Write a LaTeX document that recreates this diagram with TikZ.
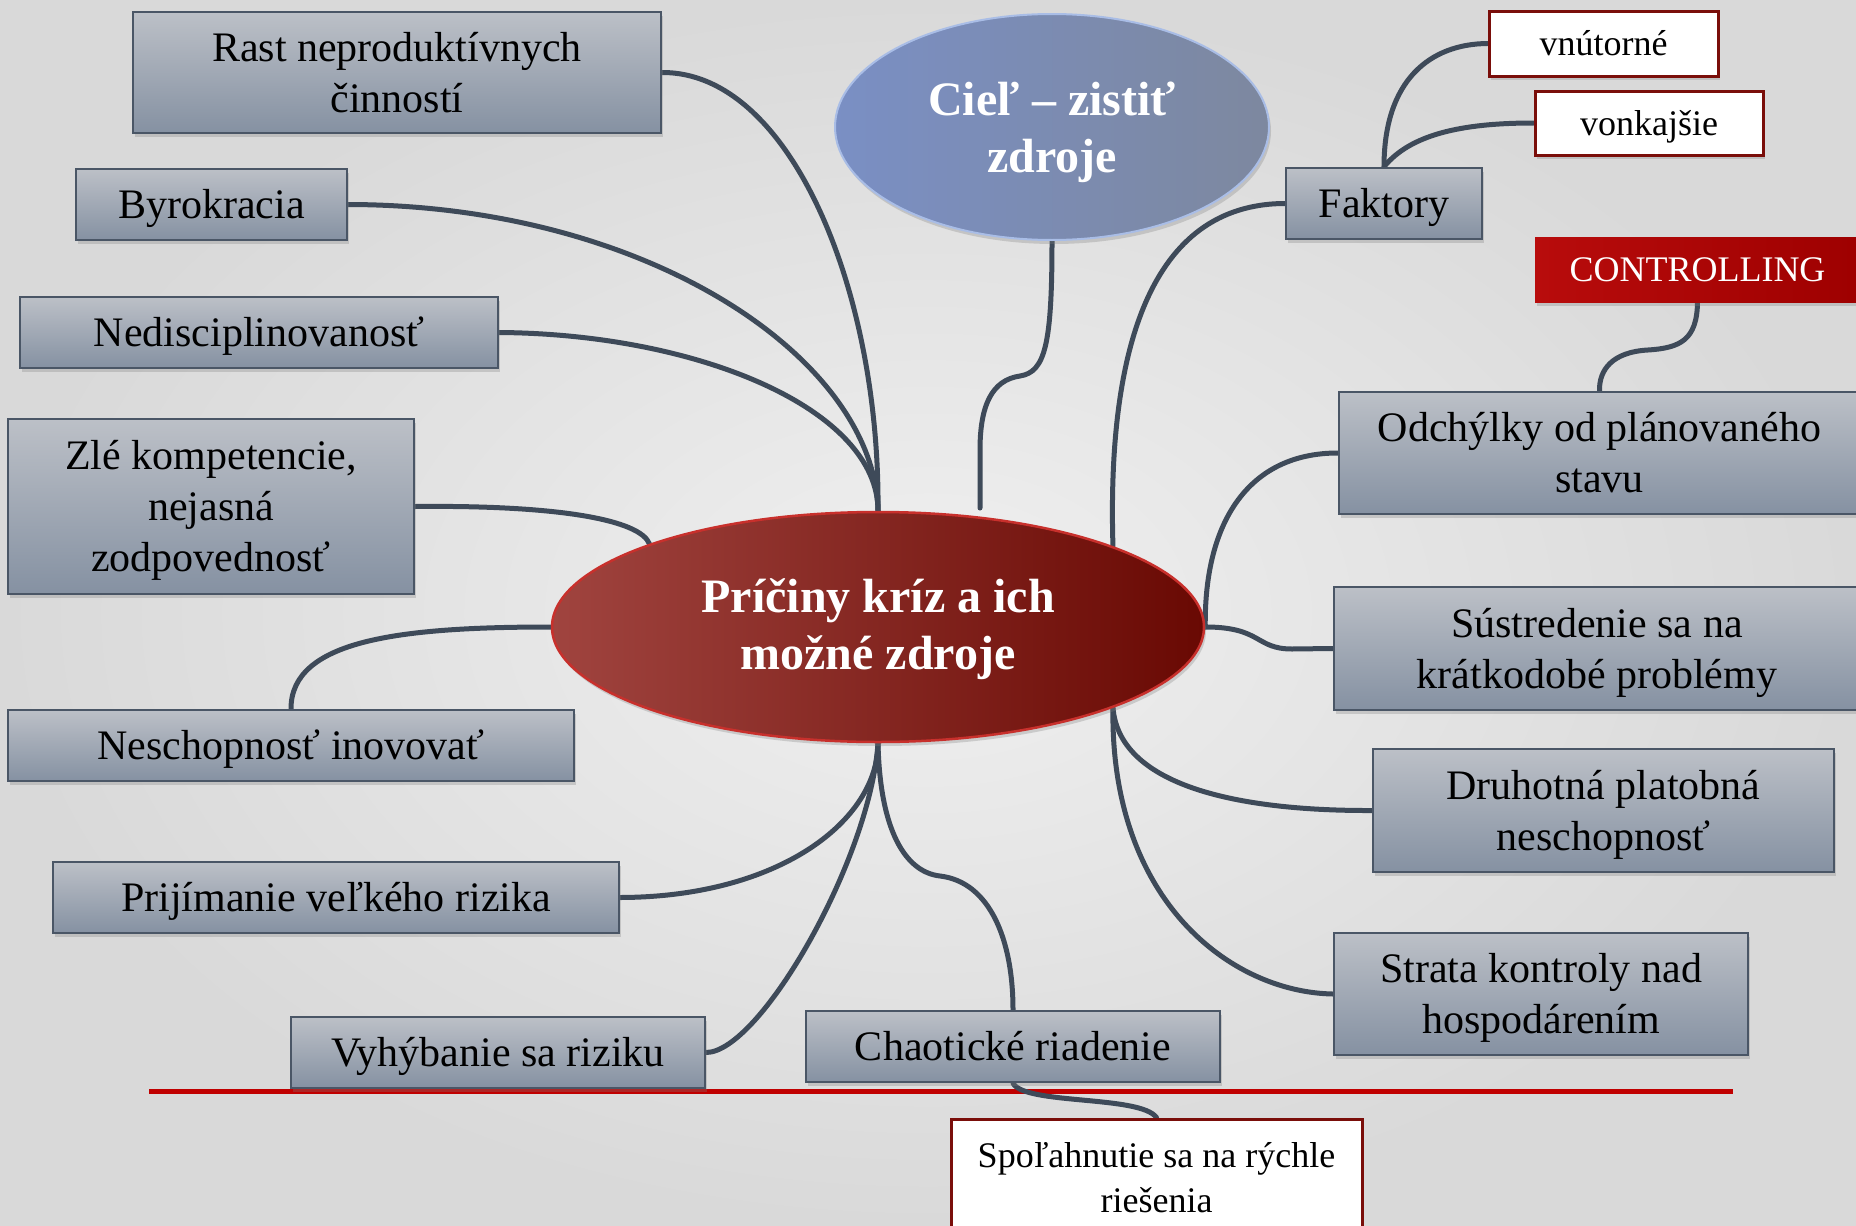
\documentclass[tikz,border=0pt]{standalone}
\usepackage{fontspec}
\setmainfont{Liberation Serif}
\usetikzlibrary{shapes.geometric,shadows}
\pgfdeclarelayer{bg}
\pgfsetlayers{bg,main}
\definecolor{lnc}{HTML}{3E4A59}
\definecolor{bordc}{HTML}{4A5666}
\definecolor{gtop}{HTML}{BCC0C7}
\definecolor{gbot}{HTML}{8591A2}
\definecolor{wred}{HTML}{7A0E0A}
\definecolor{ctrlA}{HTML}{B80C0C}
\definecolor{ctrlM}{HTML}{E02626}
\definecolor{ctrlB}{HTML}{9E0000}
\definecolor{goalA}{HTML}{7A8FC4}
\definecolor{goalB}{HTML}{7D889F}
\definecolor{goalE}{HTML}{A9BDE6}
\definecolor{coreA}{HTML}{A0443F}
\definecolor{coreM}{HTML}{821C15}
\definecolor{coreB}{HTML}{690903}
\definecolor{coreE}{HTML}{C8302C}
\definecolor{bgin}{HTML}{F0F0F0}
\definecolor{bgout}{HTML}{D9D9D9}
\definecolor{redline}{HTML}{C00000}
\begin{document}
\begin{tikzpicture}[x=1pt,y=-1pt,
  shad/.style={drop shadow={shadow xshift=2pt,shadow yshift=-4pt,opacity=.3}},
  gbox/.style={draw=bordc,line width=2.5pt,top color=gtop,bottom color=gbot,
    font=\fontsize{42}{51}\selectfont,align=center,inner sep=0pt,text depth=1pt,shad},
  wbox/.style={draw=wred,line width=3pt,fill=white,
    font=\fontsize{36}{45}\selectfont,align=center,inner sep=0pt,shad},
  ctrlbox/.style={draw=none,left color=ctrlA,middle color=ctrlM,right color=ctrlB,
    text=white,font=\fontsize{36}{45}\selectfont,inner sep=0pt,shad},
  coreell/.style={ellipse,draw=coreE,line width=2.5pt,left color=coreA,middle color=coreM,right color=coreB,
    text=white,font=\fontsize{48}{57}\selectfont\bfseries,align=center,inner sep=0pt,text depth=5pt,shad},
  goalell/.style={ellipse,draw=goalE,line width=2pt,left color=goalA,right color=goalB,
    text=white,font=\fontsize{48}{57}\selectfont\bfseries,align=center,inner sep=0pt,text depth=0pt,shad},
  conn/.style={draw=lnc,line width=5pt,line cap=round}]

\useasboundingbox (0,0) rectangle (1856,1226);
\clip (0,0) rectangle (1856,1226);

% central and goal ellipses
\node[coreell,minimum width=652pt,minimum height=230pt] (core) at (878,627) {Príčiny kríz a ich\\možné zdroje};
\node[goalell,minimum width=434pt,minimum height=226pt] (goal) at (1052,127) {Cieľ – zistiť\\zdroje};
\coordinate (goalend) at (980,508);

% left boxes
\node[gbox,minimum width=528pt,minimum height=121pt] (rast) at (397,72.5) {Rast neproduktívnych\\činností};
\node[gbox,minimum width=271pt,minimum height=71pt] (byro) at (211.5,204.5) {Byrokracia};
\node[gbox,minimum width=478pt,minimum height=71pt] (nedis) at (259,332.5) {Nedisciplinovanosť};
\node[gbox,minimum width=406pt,minimum height=175pt] (zle) at (211,506.5) {Zlé kompetencie,\\nejasná\\zodpovednosť};
\node[gbox,minimum width=566pt,minimum height=71pt] (nesch) at (291,745.5) {Neschopnosť inovovať};
\node[gbox,minimum width=566pt,minimum height=71pt] (prij) at (336,897.5) {Prijímanie veľkého rizika};
\node[gbox,minimum width=414pt,minimum height=71pt] (vyhy) at (498,1052.5) {Vyhýbanie sa riziku};
\node[gbox,minimum width=414pt,minimum height=71pt] (chao) at (1013,1046.5) {Chaotické riadenie};

% right boxes
\node[gbox,minimum width=196pt,minimum height=71pt] (fakt) at (1384,203.5) {Faktory};
\node[gbox,minimum width=521pt,minimum height=122pt] (odch) at (1599.5,453) {Odchýlky od plánovaného\\stavu};
\node[gbox,minimum width=526pt,minimum height=123pt] (sust) at (1597,648.5) {Sústredenie sa na\\krátkodobé problémy};
\node[gbox,minimum width=461pt,minimum height=123pt] (druh) at (1603.5,810.5) {Druhotná platobná\\neschopnosť};
\node[gbox,minimum width=414pt,minimum height=122pt] (strata) at (1541,994) {Strata kontroly nad\\hospodárením};

% white boxes
\node[wbox,minimum width=229pt,minimum height=65pt] (vnut) at (1603.5,43.5) {vnútorné};
\node[wbox,minimum width=228pt,minimum height=64pt,text depth=1pt] (vonk) at (1649,123) {vonkajšie};
\node[wbox,minimum width=411pt,minimum height=118pt] (spol) at (1156.5,1178) {Spoľahnutie sa na rýchle\\riešenia};
\node[ctrlbox,minimum width=325pt,minimum height=65pt] (ctrl) at (1697.5,269.5) {CONTROLLING};

\begin{pgfonlayer}{bg}
\clip (0,0) rectangle (1856,1226);
\shade[inner color=bgin,outer color=bgout] (0,0) rectangle (1856,1226);
\draw[redline,line width=5pt] (149,1091) -- (1733,1091);
% left top
\path[conn] (rast.east) .. controls (790,72) and (880,290) .. (core.north);
\path[conn] (byro.east) .. controls (650,205) and (875,360) .. (core.north);
\path[conn] (nedis.east) .. controls (700,334) and (878,410) .. (core.north);
\path[conn] (zle.east) .. controls (560,505) and (640,520) .. (core.160.7);
\path[conn] (core.west) .. controls (400,627) and (291,640) .. (nesch.north);
% bottom
\path[conn] (prij.east) .. controls (780,897) and (878,820) .. (core.south);
\path[conn] (vyhy.east) .. controls (760,1052) and (870,860) .. (core.south);
\path[conn] (core.south) .. controls (880,830) and (905,872) .. (940,876) .. controls (990,882) and (1013,940) .. (chao.north);
\path[conn] (chao.south) .. controls (1025,1105) and (1140,1095) .. (spol.north);
% goal
\path[conn] (goal.south) .. controls (1052,345) and (1045,372) .. (1020,376) .. controls (992,380) and (980,405) .. (980,450) -- (goalend);
% right
\path[conn] (fakt.west) .. controls (1150,204) and (1107,350) .. (core.19.3);
\path[conn] (fakt.north) .. controls (1384,80) and (1430,44) .. (vnut.west);
\path[conn] (fakt.north) .. controls (1410,135) and (1460,123) .. (vonk.west);
\path[conn] (ctrl.south) .. controls (1697,340) and (1680,348) .. (1648,350) .. controls (1612,352) and (1599,370) .. (odch.north);
\path[conn] (odch.west) .. controls (1250,453) and (1204,520) .. (core.east);
\path[conn] (core.east) .. controls (1262,627) and (1255,649) .. (1292,649) -- (sust.west);
\path[conn] (core.-19.3) .. controls (1120,790) and (1250,811) .. (druh.west);
\path[conn] (core.-19.3) .. controls (1110,900) and (1230,992) .. (strata.west);
\end{pgfonlayer}
\end{tikzpicture}
\end{document}
